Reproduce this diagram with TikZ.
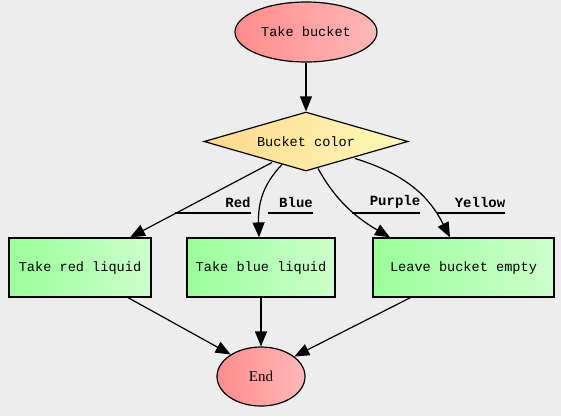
\documentclass[tikz,border=0pt]{standalone}
\usepackage{fontspec}
\setmonofont{Liberation Mono}
\newfontfamily\endfont{Liberation Serif}
\usetikzlibrary{shapes.geometric,arrows.meta,calc}
\tikzset{
  base/.style={draw=black, line width=1.2pt, inner sep=0pt, font=\fontsize{13.6}{15}\selectfont\ttfamily},
  oval/.style={base, ellipse, left color=red!45, right color=red!28},
  decide/.style={base, diamond, aspect=3.46, left color={rgb,255:red,255;green,216;blue,140}, right color={rgb,255:red,255;green,250;blue,185}},
  act/.style={base, rectangle, left color={rgb,255:red,153;green,255;blue,153}, right color={rgb,255:red,204;green,255;blue,204}},
  conn/.style={line width=1.2pt, -{Triangle[length=15pt,width=12pt]}},
  lab/.style={font=\fontsize{14}{15}\selectfont\ttfamily\bfseries, inner sep=0pt},
  uline/.style={line width=1.2pt},
}
\begin{document}
\begin{tikzpicture}[x=1pt,y=-1pt]
\fill[black!7] (0,0) rectangle (561,416);
\useasboundingbox (0,0) rectangle (561,416);
\node[oval, minimum width=142pt, minimum height=60pt] (t) at (306,32) {Take bucket};
\node[decide, minimum width=204pt, minimum height=59pt] (d) at (306,141.5) {Bucket color};
\node[act, minimum width=142pt, minimum height=59pt] (r) at (80,267.5) {Take red liquid};
\node[act, minimum width=148pt, minimum height=59pt] (b) at (261,267.5) {Take blue liquid};
\node[act, minimum width=181pt, minimum height=59pt] (l) at (463.5,267.5) {Leave bucket empty};
\node[oval, minimum width=88pt, minimum height=59pt, font=\fontsize{15}{17}\selectfont\endfont] (e) at (261,376.5) {End};

\draw[conn] (t) -- (d);
\draw[conn] ($(d.center)+(-34,21)$) -- ([xshift=50pt]r.north);
\draw[conn] ($(d.center)+(-24,23)$) .. controls ($(d.center)+(-44,44)$) and ($(b.north)+(-3,-33)$) .. ([xshift=-2pt]b.north);
\draw[conn] ($(d.center)+(12,27)$) .. controls ($(d.center)+(27,54)$) and ($(l.north)+(-113,-23)$) .. ([xshift=-73.5pt]l.north);
\draw[conn] ($(d.center)+(49,17)$) .. controls ($(d.center)+(104,34)$) and ($(l.north)+(-33,-38)$) .. ([xshift=-13.5pt]l.north);
\draw[conn] ([xshift=48pt]r.south) -- (e.144);
\draw[conn] (b.south) -- (e.north);
\draw[conn] ([xshift=-53pt]l.south) -- (e.31);

\node[lab] (lr) at (238,202) {Red};
\node[lab] (lb) at (296,202) {Blue};
\node[lab] (lp) at (395,202) {Purple};
\node[lab] (ly) at (480,202) {Yellow};
\draw[uline] (175,213) -- (lr.south east |- 0,213);
\draw[uline] (268,213) -- (lb.south east |- 0,213);
\draw[uline] (352,213) -- (lp.south east |- 0,213);
\draw[uline] (437,213) -- (ly.south east |- 0,213);
\end{tikzpicture}
\end{document}
